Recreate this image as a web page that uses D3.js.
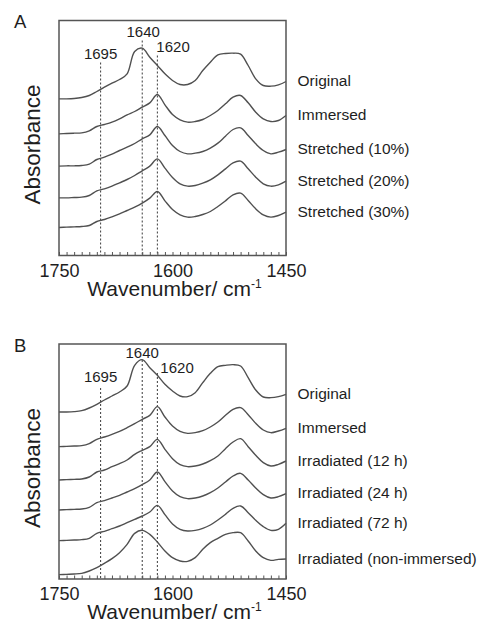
<!DOCTYPE html>
<html><head><meta charset="utf-8">
<script src="https://cdn.jsdelivr.net/npm/d3@7"></script>
<style>
body{margin:0;background:#fff}
svg{display:block}
text{font-family:"Liberation Sans",Arial,Helvetica,sans-serif;fill:#1e1e1e}
</style>
</head><body>
<svg id="chart" width="480" height="622"></svg>
<script>
// ---------- DATA ----------
const wavenumbers = [1750,1740,1730,1720,1710,1700,1690,1680,1670,1660,1650,1640,1630,1620,1610,1600,
                     1590,1580,1570,1560,1550,1540,1530,1520,1510,1500,1490,1480,1470,1460,1450];
const xTickLabels = [1750,1600,1450];
const bandMarkers = [1695,1640,1620];

// Panel A (absorbance, a.u., stacked)
const namesA = ["Original","Immersed","Stretched (10%)","Stretched (20%)","Stretched (30%)"];
const aOriginal = [0.470,0.470,0.471,0.474,0.480,0.492,0.505,0.517,0.528,0.545,0.612,0.622,0.595,0.570,0.545,0.525,
                   0.513,0.513,0.525,0.555,0.580,0.602,0.606,0.607,0.604,0.570,0.530,0.510,0.508,0.512,0.522];
const aImmersed = [0.365,0.366,0.367,0.368,0.374,0.387,0.393,0.400,0.410,0.422,0.432,0.445,0.458,0.483,0.452,0.423,
                   0.407,0.400,0.402,0.408,0.420,0.435,0.455,0.475,0.480,0.458,0.430,0.410,0.402,0.405,0.420];
const aStretch10 = [0.268,0.269,0.269,0.270,0.274,0.288,0.295,0.304,0.315,0.325,0.336,0.350,0.362,0.387,0.360,0.330,
                    0.312,0.305,0.307,0.312,0.322,0.337,0.358,0.378,0.383,0.360,0.335,0.315,0.305,0.310,0.318];
const aStretch20 = [0.173,0.173,0.174,0.175,0.180,0.194,0.200,0.208,0.218,0.228,0.240,0.254,0.268,0.290,0.262,0.234,
                    0.215,0.208,0.210,0.217,0.227,0.242,0.260,0.278,0.283,0.260,0.235,0.215,0.208,0.212,0.223];
const aStretch30 = [0.084,0.085,0.086,0.087,0.090,0.102,0.108,0.116,0.125,0.135,0.145,0.157,0.172,0.192,0.164,0.138,
                    0.122,0.115,0.117,0.123,0.132,0.147,0.164,0.182,0.187,0.165,0.140,0.122,0.115,0.120,0.130];

// Panel B
const namesB = ["Original","Immersed","Irradiated (12 h)","Irradiated (24 h)","Irradiated (72 h)","Irradiated (non-immersed)"];
const bOriginal = [0.501,0.501,0.502,0.505,0.513,0.524,0.537,0.549,0.561,0.579,0.641,0.658,0.634,0.611,0.584,0.564,
                   0.549,0.547,0.559,0.589,0.617,0.637,0.641,0.643,0.639,0.604,0.567,0.546,0.544,0.547,0.554];
const bImmersed = [0.397,0.398,0.399,0.400,0.406,0.419,0.426,0.434,0.443,0.454,0.466,0.479,0.491,0.517,0.486,0.459,
                   0.443,0.437,0.439,0.445,0.456,0.471,0.491,0.509,0.514,0.493,0.467,0.447,0.439,0.444,0.452];
const bIrr12 = [0.297,0.298,0.299,0.300,0.306,0.321,0.327,0.337,0.346,0.357,0.374,0.386,0.397,0.419,0.389,0.361,
                0.343,0.337,0.339,0.345,0.355,0.369,0.391,0.411,0.421,0.397,0.371,0.349,0.339,0.344,0.354];
const bIrr24 = [0.207,0.208,0.209,0.210,0.215,0.229,0.235,0.243,0.251,0.261,0.271,0.283,0.297,0.321,0.292,0.264,
                0.247,0.241,0.243,0.249,0.259,0.273,0.291,0.309,0.317,0.297,0.273,0.253,0.243,0.247,0.256];
const bIrr72 = [0.115,0.116,0.117,0.118,0.122,0.137,0.143,0.151,0.159,0.169,0.179,0.189,0.201,0.221,0.193,0.165,
                0.149,0.144,0.146,0.152,0.162,0.177,0.194,0.212,0.219,0.199,0.176,0.157,0.146,0.149,0.167];
const bNonImm = [0.013,0.014,0.015,0.017,0.024,0.034,0.047,0.061,0.079,0.104,0.137,0.146,0.134,0.111,0.084,0.064,
                 0.054,0.053,0.064,0.089,0.109,0.122,0.134,0.139,0.139,0.114,0.084,0.064,0.056,0.059,0.060];

// ---------- LAYOUT ----------
const W = 480, H = 622;
const frameL = 59, frameR = 286, frameH = 235;
const panels = [
  {tag:"A", top:20.5, names:namesA, series:[aOriginal,aImmersed,aStretch10,aStretch20,aStretch30],
   ann:{1695:{dy:38, lineTop:42, anchor:"middle", dx:0},
        1640:{dy:16, lineTop:20, anchor:"middle", dx:1},
        1620:{dy:31, lineTop:35, anchor:"start", dx:-1}}},
  {tag:"B", top:344, names:namesB, series:[bOriginal,bImmersed,bIrr12,bIrr24,bIrr72,bNonImm],
   ann:{1695:{dy:38, lineTop:44, anchor:"middle", dx:0},
        1640:{dy:14, lineTop:16, anchor:"middle", dx:0},
        1620:{dy:29, lineTop:29, anchor:"start", dx:3}}}
];

const svg = d3.select("#chart");
svg.append("rect").attr("width",W).attr("height",H).attr("fill","#fff");

const x = d3.scaleLinear().domain([1750,1450]).range([frameL, frameR]);
const minorTicks = d3.range(1750, 1449, -10);

panels.forEach(p => {
  const g = svg.append("g");
  const bottom = p.top + frameH;
  const y = d3.scaleLinear().domain([0, 0.705]).range([bottom, p.top]);

  // dotted band markers
  bandMarkers.forEach(b => {
    const a = p.ann[b];
    g.append("line")
      .attr("x1", x(b)).attr("x2", x(b))
      .attr("y1", p.top + a.lineTop).attr("y2", bottom)
      .attr("stroke","#3a3a3a").attr("stroke-width",1)
      .attr("stroke-dasharray","2,2");
    g.append("text")
      .attr("x", x(b) + a.dx).attr("y", p.top + a.dy)
      .attr("text-anchor", a.anchor)
      .attr("font-size", 15)
      .text(b);
  });

  // spectra
  const line = d3.line()
    .x((d,i) => x(wavenumbers[i]))
    .y(d => y(d))
    .curve(d3.curveCatmullRom.alpha(0.5));
  p.series.forEach((s, k) => {
    g.append("path").attr("d", line(s))
      .attr("fill","none").attr("stroke","#505050").attr("stroke-width",1.4);
    g.append("text")
      .attr("x", frameR + 11.5).attr("y", y(s[s.length-1]) + 4.5)
      .attr("font-size", 15.5)
      .text(p.names[k]);
  });

  // minor ticks (inward)
  const tickAxis = d3.axisBottom(x).tickValues(minorTicks).tickSize(-3.5).tickFormat("");
  const ta = g.append("g").attr("transform", `translate(0,${bottom})`).call(tickAxis);
  ta.select(".domain").remove();
  ta.selectAll("line").attr("stroke","#555").attr("stroke-width",1);

  // tick labels
  const labAxis = d3.axisBottom(x).tickValues(xTickLabels).tickSize(0).tickPadding(8.5).tickFormat(d3.format("d"));
  const la = g.append("g").attr("transform", `translate(0,${bottom})`).call(labAxis);
  la.select(".domain").remove();
  la.selectAll("text").attr("font-size", 18).attr("fill","#1e1e1e")
    .attr("font-family","'Liberation Sans',Arial,sans-serif");

  // frame
  g.append("rect").attr("x", frameL).attr("y", p.top)
    .attr("width", frameR - frameL).attr("height", frameH)
    .attr("fill","none").attr("stroke","#555").attr("stroke-width",1.5);

  // axis titles
  const xt = g.append("text").attr("x", (frameL+frameR)/2 + 2).attr("y", bottom + 40)
    .attr("text-anchor","middle").attr("font-size", 21);
  xt.append("tspan").text("Wavenumber/ cm");
  xt.append("tspan").attr("font-size", 12).attr("dy", -8).text("-1");

  g.append("text")
    .attr("transform", `translate(${40},${p.top + frameH/2 + 6.5}) rotate(-90)`)
    .attr("text-anchor","middle").attr("font-size", 22.5)
    .text("Absorbance");

  // panel tag
  g.append("text").attr("x", 14).attr("y", p.top + 7.5)
    .attr("font-size", 18.5).text(p.tag);
});
</script>
</body></html>
